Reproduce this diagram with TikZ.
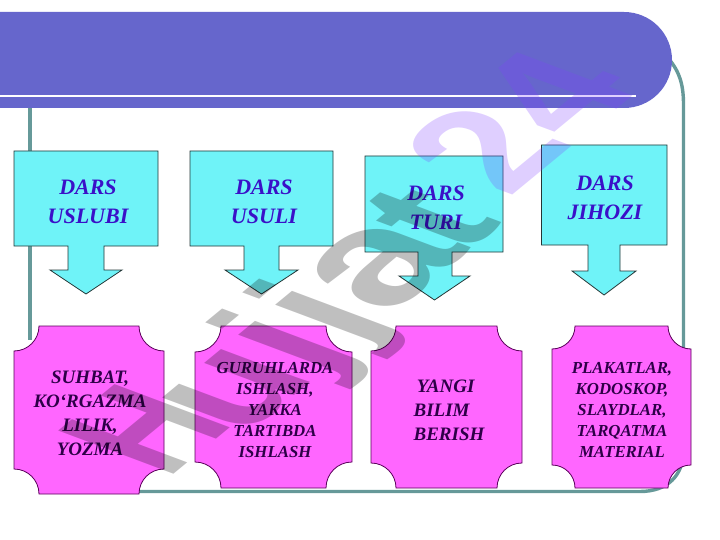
\documentclass[tikz,border=0pt]{standalone}
\usepackage{fontspec}
\usepackage{graphicx}
\setmainfont{Liberation Serif}
\newfontfamily\wmfont{Liberation Sans}
\definecolor{hdr}{HTML}{6666CC}
\definecolor{rim}{HTML}{669999}
\definecolor{cy}{HTML}{6FF3F8}
\definecolor{pk}{HTML}{FF66FF}
\definecolor{bt}{HTML}{3A10C8}
\definecolor{dt}{HTML}{2E0048}
\definecolor{lilac}{RGB}{128,64,255}
\tikzset{
 rimline/.style={draw=rim,line width=3.4pt},
 cybox/.style={draw=rim!35!black,fill=cy,line width=.8pt,line join=miter},
 pkbox/.style={draw=violet!70!black,fill=pk,line width=.8pt},
 cytext/.style={font=\fontsize{22}{29}\selectfont\bfseries\itshape,text=bt,align=center},
 pktext/.style={font=\fontsize{16.8}{21}\selectfont\bfseries\itshape,text=dt,align=center},
 pkbig/.style={font=\fontsize{19}{24}\selectfont\bfseries\itshape,text=dt,align=center},
 wm/.style={font=\wmfont\bfseries\fontsize{100}{100}\selectfont,inner sep=0pt,anchor=base west,transform shape,text opacity=.25}
}
\newcommand{\callout}[9]{%
 \path[cybox] (#1,#2)--(#3,#2)--(#3,#4)--(#6,#4)--(#6,#9)--(#8,#9)--({(#7+#8)/2},{#9+24})--(#7,#9)--(#5,#9)--(#5,#4)--(#1,#4)--cycle;}
\newcommand{\plaque}[6]{%
 \path[pkbox] ({#1+#5},#2)--({#3-#5},#2) to[out=-90,in=180] (#3,{#2+#6})--(#3,{#4-#6}) to[out=180,in=90] ({#3-#5},#4)--({#1+#5},#4) to[out=90,in=0] (#1,{#4-#6})--(#1,{#2+#6}) to[out=0,in=-90] ({#1+#5},#2)--cycle;}
\begin{document}
\begin{tikzpicture}[x=1pt,y=-1pt]
\useasboundingbox (0,0) rectangle (720,540);
\fill[white] (0,0) rectangle (720,540);
\coordinate (a) at (30,108);
\coordinate (b) at (30,340);
\coordinate (c) at (100,491.5);
\coordinate (d) at (640,491.5);
\coordinate (e) at (683.5,450);
\coordinate (f) at (683.5,105);
\coordinate (g) at (668,58);
\draw[rimline] (a)--(b);
\draw[rimline] (c)--(d) .. controls (668,491.5) and (683.5,475) .. (e)--(f) .. controls (683.5,85) and (680,72) .. (g);
\fill[hdr] (0,12)--(624,12) arc[start angle=-90,end angle=90,radius=48]--(0,108)--cycle;
\fill[white] (0,95) rectangle (636,97);
\callout{14}{151}{158}{246}{68}{104}{50}{122}{270}
\callout{190}{151}{333}{246}{244}{279}{225}{298}{270}
\callout{365}{156}{503}{252}{418}{452}{399}{470}{276}
\callout{541.5}{145}{667}{245}{588}{620}{572}{636}{271}
\plaque{14}{326}{164}{494}{25}{25}
\plaque{195}{326}{352}{488}{26}{26}
\plaque{371}{326}{522}{488}{25}{25}
\plaque{552}{326}{691}{488}{23}{23}
\node[cytext] (t1) at (88,202) {DARS\\USLUBI};
\node[cytext] (t2) at (264,202) {DARS\\USULI};
\node[cytext] (t3) at (436,208) {DARS\\TURI};
\node[cytext] (t4) at (605,198) {DARS\\JIHOZI};
\node[pkbig] (p1) at (90,413) {SUHBAT,\\KO`RGAZMA\\LILIK,\\YOZMA};
\node[pktext] (p2) at (275,410) {GURUHLARDA\\ISHLASH,\\YAKKA\\TARTIBDA\\ISHLASH};
\node[pkbig,align=left] (p3) at (449,410) {\,YANGI\\BILIM\\BERISH};
\node[pktext] (p4) at (622,410) {PLAKATLAR,\\KODOSKOP,\\SLAYDLAR,\\TARQATMA\\MATERIAL};
\begin{scope}[cm={1.229,1.013,-1.676,0.628,(167,480)}]
\node[wm,text=black] (w1) at (0,0) {\scalebox{.78}[1]{H}\kern-8pt\raisebox{-10pt}{uj\kern2pt j\scalebox{1.2}[1.08]{a}\kern-6pt t}};
\node[wm,text=lilac,anchor=base east] (w2) at (389,0) {24};
\end{scope}
\end{tikzpicture}
\end{document}
